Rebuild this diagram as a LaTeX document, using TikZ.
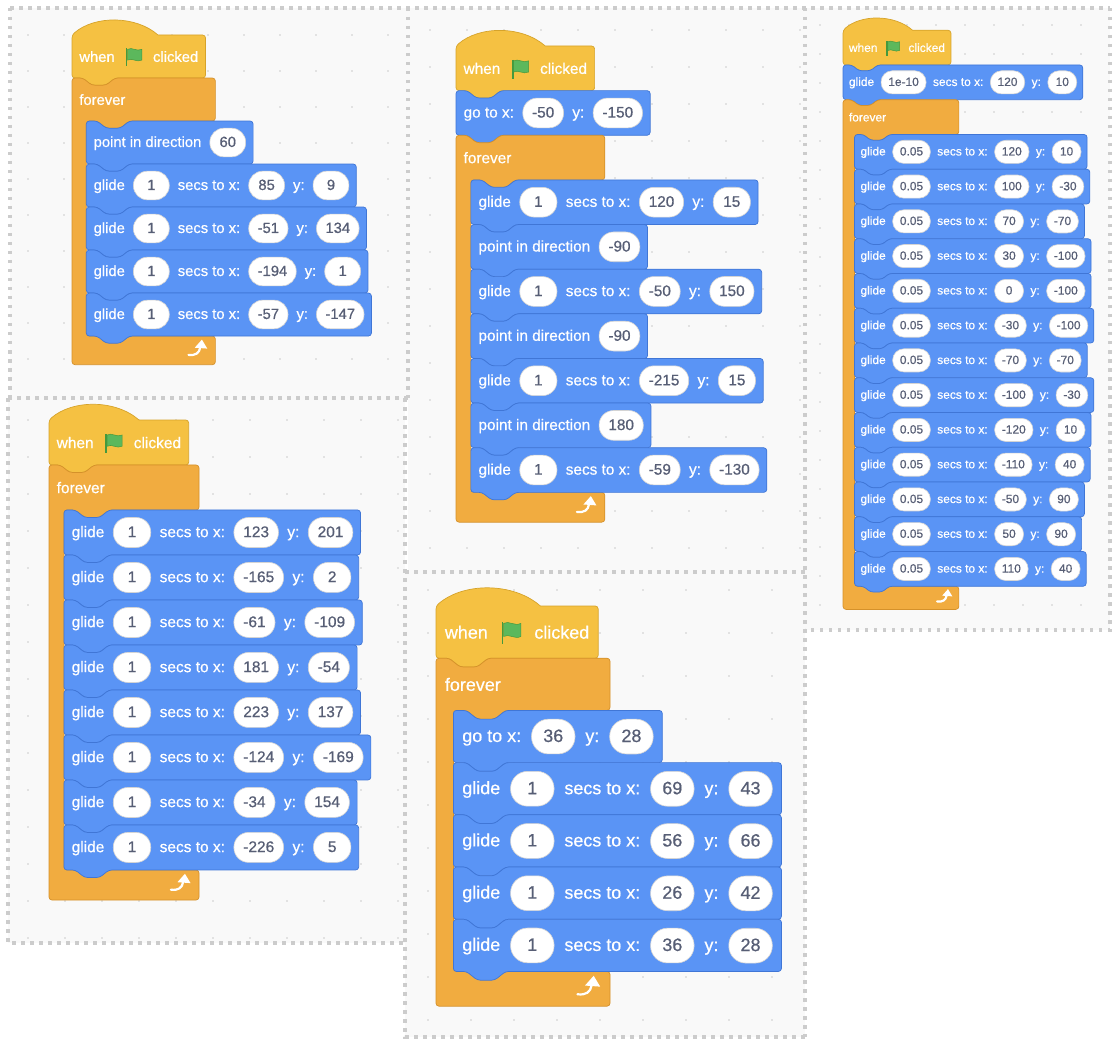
\documentclass[tikz,border=0pt]{standalone}
\usepackage{fontspec}
\newfontfamily\blkfont{Liberation Sans}[FakeBold=0.6]
\usetikzlibrary{arrows,shapes.misc,positioning,calc}
\definecolor{motionfill}{RGB}{90,148,245}
\definecolor{motionline}{RGB}{64,118,214}
\definecolor{eventsfill}{RGB}{245,193,66}
\definecolor{eventsline}{RGB}{214,163,42}
\definecolor{controlfill}{RGB}{241,172,64}
\definecolor{controlline}{RGB}{213,145,42}
\definecolor{ovaltext}{RGB}{87,94,117}
\definecolor{ovalline}{RGB}{212,212,212}
\definecolor{panelfill}{RGB}{249,249,249}
\definecolor{dotgray}{RGB}{204,204,204}
\definecolor{flaggreen}{RGB}{92,184,92}
\definecolor{flagdark}{RGB}{69,153,61}
\pgfdeclarelayer{bg}
\pgfsetlayers{bg,main}

% blue stack block behind its nodes, #1 = top left, #2 = last node
\newcommand{\stackshape}[2]{%
  \coordinate (#1-r) at ($(#2.east)+(8,0)$);
  \begin{pgfonlayer}{bg}
    \draw[motion] (#1) -- ++(12,0) -- ++(10,8) -- ++(16,0) -- ++(10,-8)
      -- (#1-r |- #1) -- ++(0,48) -- ($(#1)+(48,48)$) -- ++(-10,8)
      -- ++(-16,0) -- ++(-10,-8) -- ($(#1)+(0,48)$) -- cycle;
  \end{pgfonlayer}}
\newcommand{\glideblk}[5]{%
  \coordinate (#1) at (#2);
  \node[txt] (#1-a) at ($(#1)+(8,24)$) {glide};
  \node[oval, right=of #1-a] (#1-b) {#3};
  \node[txt, right=of #1-b] (#1-c) {secs to x:};
  \node[oval, right=of #1-c] (#1-d) {#4};
  \node[txt, right=of #1-d] (#1-e) {y:};
  \node[oval, right=of #1-e] (#1-f) {#5};
  \stackshape{#1}{#1-f}}
\newcommand{\pointblk}[3]{%
  \coordinate (#1) at (#2);
  \node[txt] (#1-a) at ($(#1)+(8,24)$) {point in direction};
  \node[oval, right=of #1-a] (#1-b) {#3};
  \stackshape{#1}{#1-b}}
\newcommand{\gotoblk}[4]{%
  \coordinate (#1) at (#2);
  \node[txt] (#1-a) at ($(#1)+(8,24)$) {go to x:};
  \node[oval, right=of #1-a] (#1-b) {#3};
  \node[txt, right=of #1-b] (#1-c) {y:};
  \node[oval, right=of #1-c] (#1-d) {#4};
  \stackshape{#1}{#1-d}}
% hat block with the green flag
\newcommand{\hatblk}[2]{%
  \coordinate (#1) at (#2);
  \node[txt] (#1-a) at ($(#1)+(8,25)$) {when};
  \node[flagicon, right=of #1-a] (#1-b) {};
  \node[txt, right=of #1-b] (#1-c) {clicked};
  \coordinate (#1-r) at ($(#1-c.east)+(8,0)$);
  \begin{pgfonlayer}{bg}
    \draw[events] (#1) .. controls ($(#1)+(25,-22)$) and ($(#1)+(71,-22)$) .. ($(#1)+(96,0)$)
      [rounded corners=3pt] -- (#1-r |- #1) -- ++(0,48) -- ($(#1)+(48,48)$) -- ++(-10,8)
      -- ++(-16,0) -- ++(-10,-8) -- ($(#1)+(0,48)$) -- cycle;
  \end{pgfonlayer}
  \draw[flagdark, line width=1.5pt] ($(#1-b)+(-8,-10)$) -- ($(#1-b)+(-8,10)$);
  \filldraw[fill=flaggreen, draw=flagdark, line width=0.5pt] ($(#1-b)+(-7,-9)$)
    .. controls ($(#1-b)+(-2,-12)$) and ($(#1-b)+(3,-6)$) .. ($(#1-b)+(9,-9)$)
    -- ($(#1-b)+(9,3)$) .. controls ($(#1-b)+(3,6)$) and ($(#1-b)+(-2,0)$) .. ($(#1-b)+(-7,3)$) -- cycle;}
% forever block, #3 = number of blocks inside
\newcommand{\foreverblk}[3]{%
  \coordinate (#1) at (#2);
  \node[txt] (#1-a) at ($(#1)+(8,25)$) {forever};
  \begin{pgfonlayer}{bg}
    \draw[control] (#1) -- ++(12,0) -- ++(10,8) -- ++(16,0) -- ++(10,-8) -- ++(112,0)
      -- ++(0,48) -- ($(#1)+(64,48)$) -- ++(-10,8) -- ++(-16,0) -- ++(-10,-8)
      -- ($(#1)+(16,48)$) -- ($(#1)+(16,48+48*#3)$) -- ($(#1)+(160,48+48*#3)$)
      -- ++(0,32) -- ($(#1)+(0,80+48*#3)$) -- cycle;
  \end{pgfonlayer}
  % loop arrow
  \draw[white, line width=2.2pt, line cap=round] ($(#1)+(130,69+48*#3)$)
    .. controls ($(#1)+(138,70+48*#3)$) and ($(#1)+(142,67+48*#3)$) .. ($(#1)+(143,61+48*#3)$);
  \fill[white] ($(#1)+(145,52+48*#3)$) -- ($(#1)+(151,62+48*#3)$) -- ($(#1)+(137,61+48*#3)$) -- cycle;}

\begin{document}
\begin{tikzpicture}[x=1pt,y=-1pt,node distance=9pt,>=stealth']
 \tikzstyle{txt}=[font=\blkfont\fontsize{16.5}{16.5}\selectfont, text=white, inner sep=0pt,
   anchor=west, text height=12pt, text depth=2pt]
 \tikzstyle{oval}=[fill=white, draw=ovalline, line width=0.6pt, font=\blkfont\fontsize{16.5}{16.5}\selectfont,
   text=ovaltext, minimum height=32pt, minimum width=40pt, inner xsep=10pt, inner ysep=0pt,
   text height=12pt, text depth=2pt]
 \tikzstyle{flagicon}=[minimum width=24pt, minimum height=24pt, inner sep=0pt]
 \tikzstyle{motion}=[fill=motionfill, draw=motionline, line width=0.7pt, rounded corners=3pt]
 \tikzstyle{events}=[fill=eventsfill, draw=eventsline, line width=0.7pt]
 \tikzstyle{control}=[fill=controlfill, draw=controlline, line width=0.7pt, rounded corners=3pt]
 \tikzstyle{border}=[dotgray, line width=3.5pt, dash pattern=on 3.5pt off 5.5pt]

 \useasboundingbox (0,0) rectangle (1113,1040);

 % panels
 \begin{pgfonlayer}{bg}
   \fill[white] (0,0) rectangle (1113,1040);
   \fill[panelfill] (10,8) rectangle (408,398);
   \fill[panelfill] (8,398) rectangle (405,943);
   \fill[panelfill] (408,8) rectangle (805,572);
   \fill[panelfill] (405,572) rectangle (805,1037);
   \fill[panelfill] (805,8) rectangle (1110,630);
   \foreach \gx in {28,64,...,400} \foreach \gy in {35,71,...,390}
     \fill[dotgray] (\gx,\gy) circle (0.9pt);
   \foreach \gx in {430,467,...,800} \foreach \gy in {30,67,...,565}
     \fill[dotgray] (\gx,\gy) circle (0.9pt);
   \foreach \gx in {820,849,...,1105} \foreach \gy in {25,54,...,625}
     \fill[dotgray] (\gx,\gy) circle (0.9pt);
   \foreach \gx in {28,65,...,400} \foreach \gy in {420,457,...,940}
     \fill[dotgray] (\gx,\gy) circle (0.9pt);
   \foreach \gx in {428,471,...,800} \foreach \gy in {590,633,...,1030}
     \fill[dotgray] (\gx,\gy) circle (0.9pt);
   \draw[border] (10,8) -- (1110,8);
   \draw[border] (10,8) -- (10,398);
   \draw[border] (408,8) -- (408,398);
   \draw[border] (8,398) -- (408,398);
   \draw[border] (8,398) -- (8,943) -- (405,943);
   \draw[border] (405,398) -- (405,1037) -- (805,1037);
   \draw[border] (405,572) -- (805,572);
   \draw[border] (805,8) -- (805,1037);
   \draw[border] (1110,8) -- (1110,630) -- (805,630);
 \end{pgfonlayer}

 % top left
 \begin{scope}[shift={(72,35)}, scale=0.896, transform shape, oval/.append style={rounded corners=14pt}]
   \hatblk{ha}{0,0}
   \foreverblk{fa}{0,48}{5}
   \pointblk{a0}{16,96}{60}
   \foreach \gx/\gy [count=\i] in {85/9,-51/134,-194/1,-57/-147}
     {\glideblk{a\i}{16,96+48*\i}{1}{\gx}{\gy}}
 \end{scope}

 % top middle
 \begin{scope}[shift={(456,46)}, scale=0.93, transform shape, oval/.append style={rounded corners=14.5pt}]
   \hatblk{hb}{0,0}
   \gotoblk{gb}{0,48}{-50}{-150}
   \foreverblk{fb}{0,96}{7}
   \glideblk{b1}{16,144}{1}{120}{15}
   \pointblk{b2}{16,192}{-90}
   \glideblk{b3}{16,240}{1}{-50}{150}
   \pointblk{b4}{16,288}{-90}
   \glideblk{b5}{16,336}{1}{-215}{15}
   \pointblk{b6}{16,384}{180}
   \glideblk{b7}{16,432}{1}{-59}{-130}
 \end{scope}

 % right
 \begin{scope}[shift={(843,30.2)}, scale=0.724, transform shape, oval/.append style={rounded corners=11.3pt}]
   \hatblk{hc}{0,0}
   \glideblk{gc}{0,48}{1e-10}{120}{10}
   \foreverblk{fc}{0,96}{13}
   \foreach \gx/\gy [count=\i from 0] in {120/10,100/-30,70/-70,30/-100,0/-100,-30/-100,
       -70/-70,-100/-30,-120/10,-110/40,-50/90,50/90,110/40}
     {\glideblk{c\i}{16,144+48*\i}{0.05}{\gx}{\gy}}
 \end{scope}

 % bottom left
 \begin{scope}[shift={(49,420)}, scale=0.9375, transform shape, oval/.append style={rounded corners=14.7pt}]
   \hatblk{hd}{0,0}
   \foreverblk{fd}{0,48}{8}
   \foreach \gx/\gy [count=\i from 0] in {123/201,-165/2,-61/-109,181/-54,223/137,-124/-169,-34/154,-226/5}
     {\glideblk{d\i}{16,96+48*\i}{1}{\gx}{\gy}}
 \end{scope}

 % bottom middle
 \begin{scope}[shift={(436,606)}, scale=1.0875, transform shape, oval/.append style={rounded corners=17pt}]
   \hatblk{he}{0,0}
   \foreverblk{fe}{0,48}{5}
   \gotoblk{e0}{16,96}{36}{28}
   \foreach \gx/\gy [count=\i] in {69/43,56/66,26/42,36/28}
     {\glideblk{e\i}{16,96+48*\i}{1}{\gx}{\gy}}
 \end{scope}
\end{tikzpicture}
\end{document}
